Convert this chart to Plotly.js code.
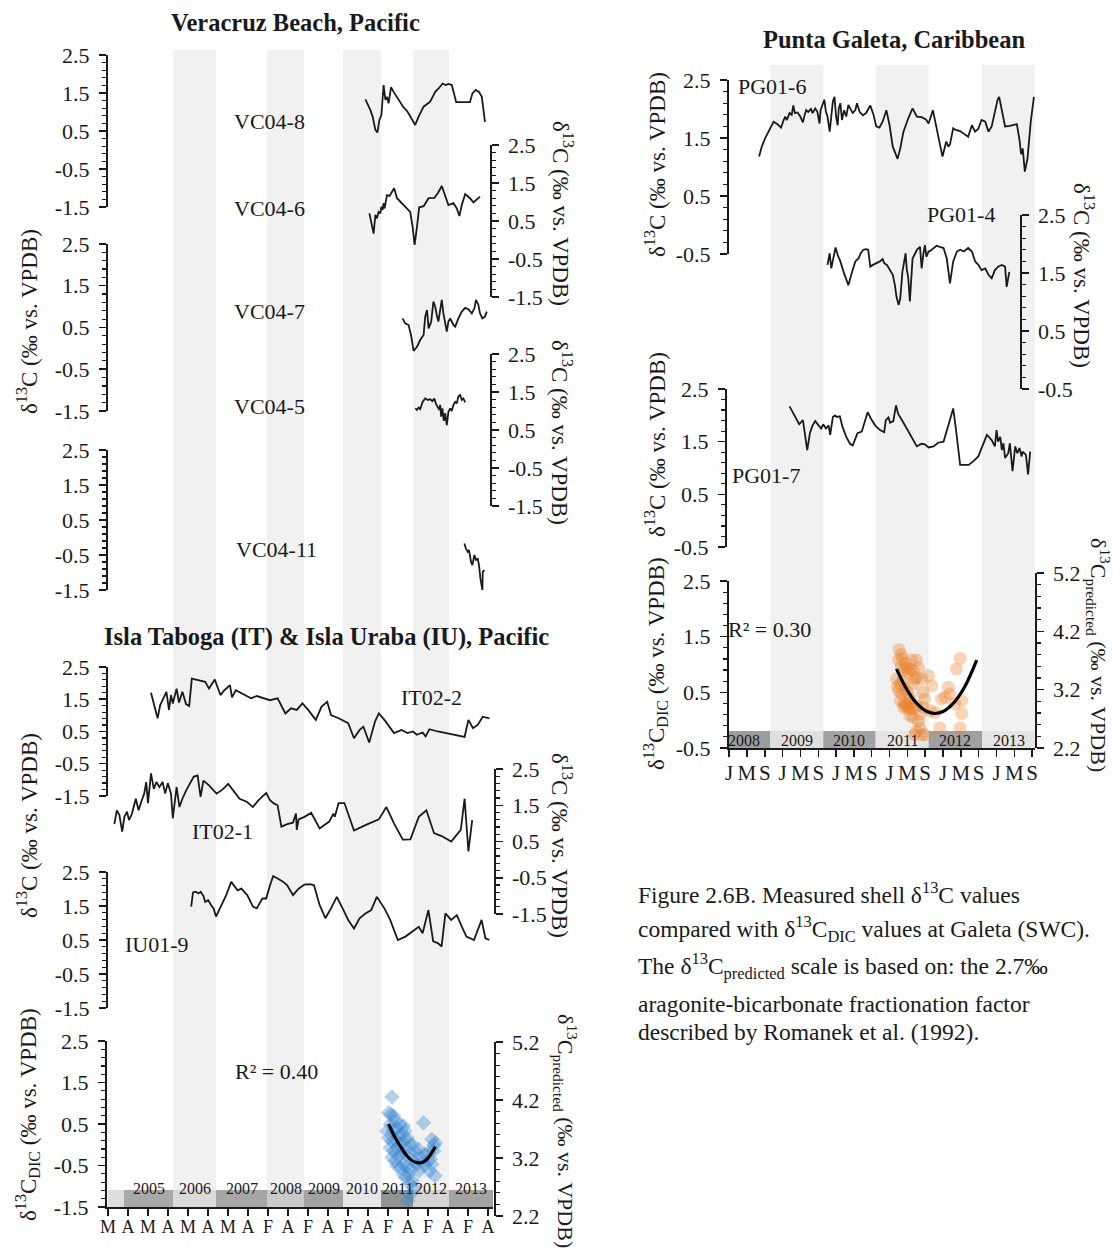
<!DOCTYPE html>
<html><head><meta charset="utf-8">
<script src="https://cdn.plot.ly/plotly-3.0.1.min.js"></script>
<style>html,body{margin:0;padding:0;background:#fff;}#chart{width:1113px;height:1258px;}</style>
</head><body><div id="chart"></div>
<script>
// ---------------- DATA ----------------
// Left column x axis: ordinal tick index (labels below)
const leftTickLabels = ['M','A','M','A','M','A','M','A','F','A','F','A','F','A','F','A','F','A','F','A'];
const leftYearLabels = ['', '2005','2006','2007','2008','2009','2010','2011','2012','2013'];
const leftYearEdges = [0, 0.8, 3.25, 5.4, 7.95, 9.8, 11.75, 13.65, 15.25, 17.05, 19.25];
const leftBandYears = ['2006','2008','2010','2012'];

// Right column x axis: decimal years
const rightYears = [2008, 2009, 2010, 2011, 2012, 2013];
const rightMonthLabels = ['J','M','S'];
const rightMonthOffsets = [0, 4, 8];
const rightYearLabels = ['2008','2009','2010','2011','2012','2013'];
const rightYearEdges = [2007.78, 2008.77, 2009.76, 2010.74, 2011.73, 2012.73, 2013.72];
const rightBandYears = ['2009','2011','2013'];

// Veracruz Beach
const vc048X = [12.87,13.12,13.23,13.37,13.47,13.57,13.67,13.78,13.87,13.95,14.03,14.15,14.28,14.53,14.78,14.95,15.11,15.36,15.53,15.78,16.11,16.36,16.53,16.73,16.89,17.02,17.19,17.41,17.69,18.1,18.22,18.39,18.55,18.69,18.85];
const vc048Y = [1.33,1.05,0.88,0.53,0.46,0.79,0.92,1.71,1.32,1.40,1.23,1.65,1.53,1.32,1.12,1.03,0.88,0.66,0.88,1.14,1.27,1.53,1.62,1.75,1.71,1.74,1.71,1.26,1.26,1.26,1.49,1.58,1.53,1.40,0.74];
const vc046X = [13.07,13.2,13.28,13.37,13.45,13.53,13.62,13.67,13.73,13.78,13.83,13.95,14.08,14.2,14.31,14.45,14.61,14.86,15.11,15.23,15.33,15.45,15.56,15.78,16.03,16.32,16.49,16.69,16.86,17.02,17.27,17.44,17.57,17.69,17.86,18.1,18.27,18.44,18.6];
const vc046Y = [0.70,0.39,0.17,0.66,0.57,0.74,0.70,0.88,0.79,0.97,0.83,1.18,1.16,1.27,1.36,1.10,1.01,0.88,0.74,0.35,-0.13,0.35,0.86,0.89,1.10,1.11,1.23,1.42,1.18,0.92,0.97,0.83,0.63,0.92,1.21,1.10,0.99,1.07,1.14];
const vc047X = [14.73,14.86,15.03,15.15,15.28,15.45,15.61,15.78,15.86,15.95,16.03,16.16,16.27,16.36,16.44,16.52,16.61,16.69,16.77,16.86,16.94,17.02,17.11,17.27,17.36,17.52,17.69,17.86,18.02,18.19,18.32,18.4,18.52,18.6,18.72,18.85,18.94];
const vc047Y = [0.72,0.60,0.56,0.32,-0.06,0.04,0.20,0.32,0.76,0.92,0.48,0.64,1.12,1.0,0.80,0.64,0.92,1.16,0.84,0.64,0.40,0.64,0.72,0.56,0.52,0.72,0.88,0.97,0.94,0.84,0.96,1.16,1.04,0.84,0.72,0.76,0.88];
const vc045X = [15.36,15.45,15.53,15.61,15.73,15.86,15.99,16.11,16.22,16.32,16.39,16.49,16.56,16.61,16.66,16.72,16.79,16.86,16.94,17.02,17.11,17.19,17.27,17.36,17.44,17.52,17.61,17.69,17.77,17.86];
const vc045Y = [1.07,1.03,1.09,1.05,1.24,1.33,1.29,1.31,1.26,1.33,1.20,1.11,1.03,1.16,0.85,1.07,0.74,0.94,0.63,0.98,1.07,1.00,1.16,1.24,1.20,1.38,1.42,1.29,1.33,1.23];
const vc0411X = [17.82,17.89,17.99,18.05,18.15,18.22,18.32,18.4,18.49,18.55,18.62,18.72,18.74,18.82];
const vc0411Y = [-0.17,-0.31,-0.41,-0.36,-0.69,-0.79,-0.50,-0.64,-0.61,-0.79,-1.17,-1.50,-0.98,-0.93];

// Isla Taboga & Isla Uraba
const it022X = [2.15,2.33,2.48,2.61,2.76,2.92,3.05,3.15,3.24,3.43,3.55,3.72,3.90,4.06,4.19,4.58,4.86,5.05,5.34,5.62,5.82,6.10,6.20,6.39,6.67,7.15,7.44,8.10,8.48,8.87,9.15,9.44,9.72,10.01,10.39,10.68,10.96,11.15,11.53,12.01,12.30,12.58,12.77,13.06,13.35,13.54,13.82,14.30,14.68,14.97,15.25,15.44,15.73,15.88,16.07,16.49,17.83,18.02,18.25,18.49,18.74,19.07];
const it022Y = [1.70,1.27,0.91,1.32,1.53,1.73,1.17,1.63,1.37,1.83,1.40,1.73,1.35,1.29,2.14,2.09,2.04,1.83,2.11,1.63,1.78,1.94,1.56,1.78,1.68,1.53,1.60,1.47,1.53,1.06,1.22,1.17,1.37,1.17,0.86,1.27,1.42,1.01,0.91,0.76,0.29,0.55,0.65,0.16,0.81,1.06,0.86,0.45,0.55,0.45,0.50,0.40,0.47,0.35,0.57,0.50,0.33,0.86,0.60,0.71,0.96,0.91];
const it021X = [0.32,0.44,0.57,0.71,0.82,0.95,1.05,1.20,1.39,1.53,1.66,1.81,1.91,2.00,2.15,2.29,2.42,2.57,2.73,2.86,2.99,3.15,3.24,3.34,3.43,3.57,3.72,3.91,4.10,4.29,4.48,4.63,4.77,5.05,5.43,5.72,6.01,6.20,6.58,6.96,7.24,7.53,7.91,8.10,8.29,8.48,8.67,8.96,9.25,9.40,9.44,9.53,9.82,10.16,10.58,11.06,11.27,11.34,11.53,11.82,12.30,12.87,13.54,13.92,14.30,14.74,15.12,15.54,15.92,16.30,16.68,17.16,17.64,17.83,18.02,18.21];
const it021Y = [0.98,1.36,1.23,0.77,1.18,1.32,1.09,1.27,1.68,1.36,1.59,1.82,2.14,1.56,2.38,1.95,2.14,2.00,2.14,1.82,2.11,1.82,1.14,1.59,2.00,1.45,1.68,1.91,2.09,2.29,2.32,1.73,2.18,2.05,1.82,1.93,2.09,1.95,1.68,1.59,1.45,1.64,1.84,1.64,1.55,1.50,0.91,0.98,1.02,1.27,0.82,1.11,1.18,1.29,0.86,1.05,1.27,1.18,1.56,1.56,0.80,0.95,1.11,1.45,1.00,0.55,0.56,1.18,1.36,0.73,0.65,0.50,0.82,1.68,0.23,1.09];
const iu019X = [4.16,4.25,4.39,4.52,4.63,4.77,4.86,5.01,5.15,5.28,5.40,5.62,5.91,6.16,6.29,6.48,6.67,6.96,7.25,7.44,7.72,7.91,8.10,8.26,8.48,8.77,8.96,9.25,9.53,9.82,10.10,10.30,10.58,10.87,11.15,11.44,11.73,12.01,12.30,12.58,12.87,13.16,13.44,13.82,14.11,14.49,14.87,15.25,15.54,15.73,16.02,16.26,16.49,16.68,16.87,17.16,17.44,17.73,17.92,18.30,18.68,18.87,19.07];
const iu019Y = [1.48,1.90,1.92,1.87,1.92,1.80,1.62,1.67,1.53,1.43,1.19,1.48,1.82,2.21,2.11,1.96,2.01,1.82,1.48,1.43,1.72,1.72,2.11,2.38,2.31,2.21,2.11,1.82,2.01,2.13,2.14,2.11,1.53,1.14,1.43,1.77,1.43,1.09,0.84,1.14,1.28,1.38,1.77,1.43,1.09,0.50,0.60,0.75,0.89,0.70,1.38,0.46,0.41,0.31,1.28,1.09,1.23,0.84,0.60,0.50,1.09,0.55,0.50];
const tabDicX = [14.2,14.03,14.15,14.28,14.36,14.11,13.95,14.25,14.45,14.61,14.78,14.03,14.2,14.36,14.53,14.7,14.86,14.95,14.11,14.28,14.45,14.61,14.78,15.03,15.2,14.2,14.36,14.53,14.7,14.86,15.11,15.36,15.53,15.78,16.19,15.61,15.86,16.03,16.11,16.19,15.86,15.7,15.45,15.28,14.61,14.78,14.95,15.11,15.03,14.86,15.2,15.28,15.11,16.28,16.36,16.08,14.45,15.53,14.78,15.1,15.0,16.35,16.3];
const tabDicY = [1.15,0.77,0.73,0.69,0.57,0.49,0.33,0.33,0.41,0.49,0.45,0.17,0.09,0.13,0.21,0.25,0.33,0.17,-0.07,-0.15,-0.07,0.01,0.05,0.05,0.01,-0.31,-0.39,-0.27,-0.19,-0.23,-0.19,-0.15,-0.11,0.53,0.13,-0.31,-0.23,-0.19,-0.35,-0.47,-0.47,-0.43,-0.47,-0.39,-0.55,-0.47,-0.51,-0.59,-0.71,-0.79,-0.87,-1.03,-0.95,-0.15,0.05,-0.63,-0.51,-0.63,-0.71,-1.2,-1.35,-0.75,-0.02];
const tabFitX = [14.03,14.25,14.45,14.7,14.95,15.2,15.45,15.7,15.95,16.15,16.36];
const tabFitY = [0.50,0.27,0.09,-0.10,-0.27,-0.38,-0.43,-0.43,-0.35,-0.22,-0.05];

// Punta Galeta
const pg016X = [2008.56,2008.61,2008.67,2008.75,2008.83,2008.90,2008.97,2009.02,2009.05,2009.08,2009.13,2009.17,2009.20,2009.23,2009.28,2009.33,2009.38,2009.41,2009.44,2009.48,2009.53,2009.56,2009.61,2009.65,2009.69,2009.71,2009.75,2009.78,2009.81,2009.84,2009.88,2009.91,2009.94,2009.97,2010.00,2010.03,2010.05,2010.08,2010.11,2010.15,2010.19,2010.23,2010.27,2010.31,2010.36,2010.39,2010.44,2010.50,2010.56,2010.64,2010.70,2010.75,2010.81,2010.87,2010.94,2011.00,2011.06,2011.15,2011.20,2011.26,2011.35,2011.43,2011.51,2011.60,2011.68,2011.73,2011.81,2011.88,2011.94,2011.99,2012.06,2012.10,2012.13,2012.19,2012.24,2012.32,2012.38,2012.47,2012.54,2012.60,2012.66,2012.72,2012.79,2012.85,2012.91,2012.97,2013.02,2013.05,2013.10,2013.16,2013.25,2013.38,2013.43,2013.46,2013.49,2013.53,2013.58,2013.64,2013.70];
const pg016Y = [1.18,1.35,1.49,1.64,1.78,1.74,1.68,1.81,1.87,1.81,1.93,1.90,2.06,1.93,1.94,1.87,1.77,1.89,1.98,1.95,2.00,1.93,2.01,1.95,1.75,1.98,2.10,2.16,1.95,1.87,1.61,1.90,2.13,2.21,1.87,1.72,2.01,2.10,1.81,1.98,1.87,2.07,2.00,1.93,1.98,2.10,1.95,1.89,1.93,2.06,1.90,1.70,1.68,1.78,1.98,1.72,1.35,1.14,1.32,1.61,1.84,2.01,1.87,1.86,1.82,1.75,1.98,1.67,1.35,1.18,1.44,1.35,1.39,1.67,1.64,1.62,1.58,1.52,1.72,1.61,1.66,1.81,1.78,1.61,1.70,1.98,2.16,2.21,1.95,1.70,1.71,1.74,1.47,1.22,1.32,0.92,1.15,1.78,2.21];
const pg014X = [2009.84,2009.88,2009.91,2009.95,2009.99,2010.03,2010.08,2010.14,2010.19,2010.23,2010.29,2010.36,2010.42,2010.46,2010.51,2010.56,2010.60,2010.64,2010.69,2010.76,2010.82,2010.87,2010.90,2010.95,2011.00,2011.06,2011.10,2011.13,2011.17,2011.20,2011.24,2011.28,2011.30,2011.32,2011.35,2011.38,2011.41,2011.43,2011.48,2011.51,2011.57,2011.60,2011.63,2011.66,2011.69,2011.73,2011.76,2011.82,2011.88,2011.94,2012.01,2012.07,2012.13,2012.19,2012.26,2012.32,2012.39,2012.47,2012.54,2012.60,2012.66,2012.72,2012.79,2012.85,2012.91,2012.97,2013.03,2013.10,2013.16,2013.19,2013.24];
const pg014Y = [1.64,1.84,1.58,1.78,1.94,1.81,1.70,1.52,1.38,1.29,1.49,1.70,1.75,1.84,1.90,1.91,1.90,1.61,1.64,1.67,1.70,1.74,1.67,1.64,1.55,1.47,1.29,1.09,0.95,1.06,1.52,1.75,1.84,1.58,1.41,1.01,1.41,1.75,1.84,1.90,1.95,1.58,1.81,1.98,1.78,1.87,1.88,1.93,1.97,1.95,1.93,1.75,1.32,1.70,1.87,1.90,1.87,1.93,1.87,1.70,1.64,1.55,1.58,1.47,1.41,1.55,1.61,1.64,1.61,1.26,1.52];
const pg017X = [2009.13,2009.20,2009.27,2009.31,2009.38,2009.42,2009.46,2009.51,2009.56,2009.61,2009.67,2009.72,2009.76,2009.81,2009.86,2009.89,2009.94,2009.98,2010.01,2010.07,2010.12,2010.19,2010.26,2010.31,2010.35,2010.40,2010.48,2010.54,2010.59,2010.65,2010.73,2010.82,2010.90,2010.93,2010.98,2011.01,2011.07,2011.12,2011.16,2011.26,2011.38,2011.51,2011.60,2011.66,2011.73,2011.82,2011.91,2012.01,2012.10,2012.19,2012.24,2012.32,2012.48,2012.57,2012.66,2012.75,2012.82,2012.91,2012.97,2013.00,2013.03,2013.07,2013.10,2013.13,2013.16,2013.22,2013.25,2013.30,2013.35,2013.39,2013.43,2013.47,2013.49,2013.55,2013.59,2013.63];
const pg017Y = [2.17,2.03,1.91,1.83,1.91,1.66,1.34,1.66,1.81,1.89,1.81,1.75,1.83,1.75,1.81,1.63,1.97,2.00,1.97,1.98,1.78,1.59,1.46,1.43,1.53,1.66,1.69,1.91,2.06,1.94,1.81,1.72,1.68,1.91,1.96,1.86,1.89,2.19,2.03,1.86,1.63,1.41,1.46,1.45,1.39,1.41,1.48,1.50,1.81,2.13,1.75,1.06,1.06,1.13,1.22,1.44,1.63,1.53,1.41,1.72,1.50,1.59,1.34,1.47,1.19,1.28,1.47,0.94,1.41,1.28,1.38,1.22,1.31,1.25,0.88,1.31];
const galDicX = [2011.18,2011.21,2011.17,2011.24,2011.29,2011.32,2011.38,2011.44,2011.54,2011.13,2011.20,2011.24,2011.17,2011.23,2011.29,2011.33,2011.38,2011.44,2011.50,2011.32,2011.38,2011.44,2011.50,2011.26,2011.20,2011.57,2011.62,2011.54,2011.57,2011.60,2011.50,2011.63,2011.66,2011.73,2011.79,2011.76,2011.85,2011.94,2011.97,2012.04,2012.10,2012.13,2012.22,2012.25,2012.32,2012.35,2012.35,2012.32,2011.44,2011.38,2011.47,2011.66,2011.41,2011.50,2011.47,2011.60,2011.30,2011.35,2011.27,2011.22,2011.28,2011.35,2011.40,2011.15];
const galDicY = [1.27,1.18,1.08,1.11,1.02,0.94,0.92,0.89,0.94,0.74,0.65,0.71,0.53,0.47,0.56,0.50,0.41,0.65,0.77,0.29,0.23,0.20,0.26,0.23,0.35,0.11,0.50,-0.02,-0.14,-0.26,-0.20,0.23,0.38,0.80,0.62,0.17,0.14,-0.14,0.38,0.41,0.59,0.47,0.29,0.92,1.11,0.35,0.12,-0.14,0.05,0.08,-0.26,-0.26,1.08,1.08,0.74,0.74,0.25,0.20,0.30,0.95,0.90,0.85,0.30,0.60];
const galFitX = [2011.13,2011.3,2011.5,2011.7,2011.85,2012.0,2012.2,2012.4,2012.63];
const galFitY = [0.92,0.59,0.31,0.155,0.12,0.155,0.31,0.59,1.08];

const shellTicks = [-1.5,-0.5,0.5,1.5,2.5];
const galTicks = [-0.5,0.5,1.5,2.5];
const predTicks = [2.2,3.2,4.2,5.2];

// ---------------- BUILD ----------------
const W = 1113, H = 1258;
const FONT = '"Liberation Serif","Times New Roman",Times,serif';
const INK = '#1a1a1a';
const fx = p => p / W;
const fy = p => 1 - p / H;

function yAxis(topPx, botPx, lo, hi, side, posPx, vals) {
  const e = 0.006, per = (botPx - topPx) / (hi - lo);
  return {
    domain: [fy(botPx + e * per), fy(topPx - e * per)],
    range: [lo - e, hi + e], anchor: 'free', position: fx(posPx), side: side,
    showline: true, linecolor: INK, linewidth: 1.5,
    ticks: 'outside', ticklen: 7, tickwidth: 1.5, tickcolor: INK,
    ticklabelstandoff: 5,
    tickmode: 'array', tickvals: vals, ticktext: vals.map(v => v.toFixed(1)),
    minor: {tickmode: 'linear', tick0: lo, dtick: 0.2, ticks: 'outside', ticklen: 4, tickwidth: 1.2, tickcolor: INK, showgrid: false},
    showgrid: false, zeroline: false, fixedrange: true,
    tickfont: {family: FONT, size: 22, color: INK}
  };
}

const leftTickVals = leftTickLabels.map((_, i) => i);
const rightTickVals = [], rightTickText = [];
rightYears.forEach(y => rightMonthOffsets.forEach((m, k) => { rightTickVals.push(y + m / 12); rightTickText.push(rightMonthLabels[k]); }));

const layout = {
  width: W, height: H, margin: {l: 0, r: 0, t: 0, b: 0},
  paper_bgcolor: '#fff', plot_bgcolor: 'rgba(0,0,0,0)',
  showlegend: false, hovermode: false,
  font: {family: FONT, color: INK},
  xaxis: {
    domain: [fx(105), fx(493)], range: [-0.15, 19.25], anchor: 'y9',
    showline: true, linecolor: INK, linewidth: 1.5,
    ticks: 'outside', ticklen: 7, tickwidth: 1.5, tickcolor: INK,
    ticklabelstandoff: -4,
    tickmode: 'array', tickvals: leftTickVals, ticktext: leftTickLabels,
    tickfont: {family: FONT, size: 18, color: INK},
    showgrid: false, zeroline: false, fixedrange: true
  },
  xaxis2: {
    domain: [fx(727), fx(1035)], range: [2007.96, 2013.72], anchor: 'y14',
    showline: true, linecolor: INK, linewidth: 1.5,
    ticks: 'outside', ticklen: 7, tickwidth: 1.5, tickcolor: INK,
    ticklabelstandoff: -2,
    tickmode: 'array', tickvals: rightTickVals, ticktext: rightTickText,
    tickfont: {family: FONT, size: 21, color: INK},
    showgrid: false, zeroline: false, fixedrange: true
  },
  yaxis:   yAxis(55, 207, -1.5, 2.5, 'left', 106, shellTicks),
  yaxis2:  yAxis(145, 297, -1.5, 2.5, 'right', 490, shellTicks),
  yaxis3:  yAxis(244, 411, -1.5, 2.5, 'left', 106, shellTicks),
  yaxis4:  yAxis(354, 506, -1.5, 2.5, 'right', 490, shellTicks),
  yaxis5:  yAxis(450, 590, -1.5, 2.5, 'left', 106, shellTicks),
  yaxis6:  yAxis(667, 796, -1.5, 2.5, 'left', 106, shellTicks),
  yaxis7:  yAxis(769, 914, -1.5, 2.5, 'right', 494, shellTicks),
  yaxis8:  yAxis(872, 1008, -1.5, 2.5, 'left', 106, shellTicks),
  yaxis9:  yAxis(1041, 1207, -1.5, 2.5, 'left', 105, shellTicks),
  yaxis10: yAxis(1042, 1216, 2.2, 5.2, 'right', 494, predTicks),
  yaxis11: yAxis(80, 254, -0.5, 2.5, 'left', 727, galTicks),
  yaxis12: yAxis(215, 389, -0.5, 2.5, 'right', 1020, galTicks),
  yaxis13: yAxis(389, 547, -0.5, 2.5, 'left', 725, galTicks),
  yaxis14: yAxis(581, 748, -0.5, 2.5, 'left', 727, galTicks),
  yaxis15: yAxis(573, 748, 2.2, 5.2, 'right', 1035, predTicks),
  shapes: [], annotations: []
};

// grey seasonal bands
leftBandYears.forEach(yr => {
  const k = leftYearLabels.indexOf(yr);
  layout.shapes.push({type: 'rect', xref: 'x', yref: 'paper', x0: leftYearEdges[k], x1: leftYearEdges[k + 1], y0: fy(1207), y1: fy(50), fillcolor: '#f1f1f1', line: {width: 0}, layer: 'below'});
});
rightBandYears.forEach(yr => {
  const k = rightYearLabels.indexOf(yr);
  layout.shapes.push({type: 'rect', xref: 'x2', yref: 'paper', x0: rightYearEdges[k], x1: rightYearEdges[k + 1], y0: fy(750), y1: fy(65), fillcolor: '#f1f1f1', line: {width: 0}, layer: 'below'});
});
// year bars
const leftBarColors = ['#dedede','#a9a9a9','#dadada','#a6a6a6','#c9c9c9','#a3a3a3','#e6e6e6','#939393','#d4d4d4','#a3a3a3'];
leftYearLabels.forEach((lab, k) => {
  layout.shapes.push({type: 'rect', xref: 'x', yref: 'paper', x0: leftYearEdges[k], x1: leftYearEdges[k + 1], y0: fy(1207), y1: fy(1190), fillcolor: leftBarColors[k], line: {width: 0}, layer: 'below'});
  if (lab) layout.annotations.push({text: lab, xref: 'x', yref: 'paper', x: (leftYearEdges[k] + leftYearEdges[k + 1]) / 2, y: fy(1199), showarrow: false, font: {family: FONT, size: 16, color: INK}});
});
const rightBarColors = ['#9d9d9d','#dfdfdf','#a2a2a2','#e4e4e4','#a0a0a0','#e4e4e4'];
rightYearLabels.forEach((lab, k) => {
  layout.shapes.push({type: 'rect', xref: 'x2', yref: 'paper', x0: rightYearEdges[k], x1: rightYearEdges[k + 1], y0: fy(749), y1: fy(731), fillcolor: rightBarColors[k], line: {width: 0}, layer: 'below'});
  layout.annotations.push({text: lab, xref: 'x2', yref: 'paper', x: (rightYearEdges[k] + rightYearEdges[k + 1]) / 2, y: fy(740), showarrow: false, font: {family: FONT, size: 16, color: INK}});
});

function ann(text, x, y, o) {
  return Object.assign({text: text, x: fx(x), y: fy(y), xref: 'paper', yref: 'paper', showarrow: false, xanchor: 'center', yanchor: 'middle', font: {family: FONT, size: 22, color: INK}}, o || {});
}
const TF = {family: FONT, size: 24.5, color: INK};
const AF = {family: FONT, size: 23, color: INK};
const PF = {family: FONT, size: 22, color: INK};
const T13 = 'δ<sup>13</sup>C (‰ vs. VPDB)';
const TDIC = 'δ<sup>13</sup>C<sub>DIC</sub> (‰ vs. VPDB)';
const TPRED = 'δ<sup>13</sup>C<sub>predicted</sub> (‰ vs. VPDB)';
layout.annotations.push(
  ann('<b>Veracruz Beach, Pacific</b>', 296, 22, {font: TF}),
  ann('<b>Isla Taboga (IT) &amp; Isla Uraba (IU), Pacific</b>', 326, 637, {font: TF}),
  ann('<b>Punta Galeta, Caribbean</b>', 894, 40, {font: TF}),
  ann('VC04-8', 269, 121), ann('VC04-6', 269, 209), ann('VC04-7', 269, 311),
  ann('VC04-5', 269, 407), ann('VC04-11', 276, 550),
  ann('IT02-2', 431, 697), ann('IT02-1', 222, 831), ann('IU01-9', 157, 944),
  ann('R² = 0.40', 276, 1071),
  ann('PG01-6', 772, 86), ann('PG01-4', 961, 215), ann('PG01-7', 766, 475),
  ann('R² = 0.30', 769, 630),
  ann(T13, 27, 322, {textangle: -90, font: AF}),
  ann(T13, 562, 213, {textangle: 90, font: AF}),
  ann(T13, 562, 432, {textangle: 90, font: AF}),
  ann(T13, 27, 826, {textangle: -90, font: AF}),
  ann(T13, 562, 845, {textangle: 90, font: AF}),
  ann(TDIC, 27, 1115, {textangle: -90, font: AF}),
  ann(TPRED, 566, 1131, {textangle: 90, font: PF}),
  ann(T13, 655, 165, {textangle: -90, font: AF}),
  ann(T13, 1083, 275, {textangle: 90, font: AF}),
  ann(T13, 655, 445, {textangle: -90, font: AF}),
  ann(TDIC, 655, 664, {textangle: -90, font: AF}),
  ann(TPRED, 1099, 655, {textangle: 90, font: PF})
);
const CF = {family: FONT, size: 23.5, color: INK};
[
  ['Figure 2.6B. Measured shell δ<sup>13</sup>C values', 893],
  ['compared with δ<sup>13</sup>C<sub>DIC</sub> values at Galeta (SWC).', 929],
  ['The δ<sup>13</sup>C<sub>predicted</sub> scale is based on: the 2.7‰', 966],
  ['aragonite-bicarbonate fractionation factor', 1004],
  ['described by Romanek et al. (1992).', 1032]
].forEach(l => layout.annotations.push(ann(l[0], 636, l[1], {xanchor: 'left', font: CF})));

// traces
const line = (x, y, xa, ya) => ({x: x, y: y, xaxis: xa, yaxis: ya, type: 'scatter', mode: 'lines', line: {color: INK, width: 1.8}, hoverinfo: 'skip'});
const data = [
  line(vc048X, vc048Y, 'x', 'y'),
  line(vc046X, vc046Y, 'x', 'y2'),
  line(vc047X, vc047Y, 'x', 'y3'),
  line(vc045X, vc045Y, 'x', 'y4'),
  line(vc0411X, vc0411Y, 'x', 'y5'),
  line(it022X, it022Y, 'x', 'y6'),
  line(it021X, it021Y, 'x', 'y7'),
  line(iu019X, iu019Y, 'x', 'y8'),
  {x: tabDicX, y: tabDicY, xaxis: 'x', yaxis: 'y9', type: 'scatter', mode: 'markers', marker: {symbol: 'diamond', size: 12, color: 'rgba(50,130,205,0.36)', line: {width: 0}}, hoverinfo: 'skip'},
  {x: tabFitX, y: tabFitY, xaxis: 'x', yaxis: 'y9', type: 'scatter', mode: 'lines', line: {color: '#000', width: 3.2, shape: 'spline'}, hoverinfo: 'skip'},
  {x: [], y: [], xaxis: 'x', yaxis: 'y10', type: 'scatter', mode: 'lines'},
  line(pg016X, pg016Y, 'x2', 'y11'),
  line(pg014X, pg014Y, 'x2', 'y12'),
  line(pg017X, pg017Y, 'x2', 'y13'),
  {x: galDicX, y: galDicY, xaxis: 'x2', yaxis: 'y14', type: 'scatter', mode: 'markers', marker: {symbol: 'circle', size: 13, color: 'rgba(235,125,40,0.34)', line: {width: 0}}, hoverinfo: 'skip'},
  {x: galFitX, y: galFitY, xaxis: 'x2', yaxis: 'y14', type: 'scatter', mode: 'lines', line: {color: '#000', width: 3.2, shape: 'spline'}, hoverinfo: 'skip'},
  {x: [], y: [], xaxis: 'x2', yaxis: 'y15', type: 'scatter', mode: 'lines'}
];

Plotly.newPlot('chart', data, layout, {staticPlot: true, displayModeBar: false});
</script>
</body></html>
